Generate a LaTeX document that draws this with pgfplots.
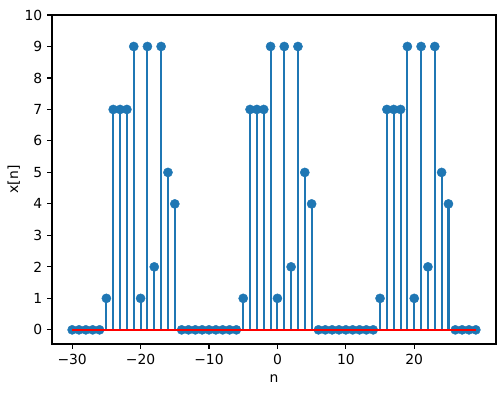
\documentclass[border=0pt]{standalone}
\usepackage{fontspec}
\setmainfont{DejaVu Sans}
\usepackage{pgfplots}
\pgfplotsset{compat=1.18}
\definecolor{C0}{HTML}{1F77B4}
\begin{document}
\begin{tikzpicture}
\path[use as bounding box] (-37.44pt,-34.56pt) rectangle (325.44pt,247.68pt);
\begin{axis}[
  at={(0,0)}, anchor=south west,
  scale only axis, width=319.68pt, height=236.88pt,
  xmin=-32.95, xmax=31.95, ymin=-0.45, ymax=10,
  xtick={-30,-20,-10,0,10,20}, xticklabels={−30,−20,−10,0,10,20},
  ytick={0,1,...,10},
  tick align=outside, tick pos=left,
  major tick length=3.5pt,
  every tick/.style={black, line width=0.8pt},
  axis line style={line width=0.8pt},
  /pgf/number format/assume math mode=true,
  ticklabel style={font=\fontsize{10}{12}\selectfont},
  label style={font=\fontsize{10}{12}\selectfont},
  xlabel={n}, ylabel={x[n]},
  xlabel style={yshift=-1pt},
  ylabel style={yshift=-3.5pt},
  clip mode=individual,
]
\addplot[ycomb, C0, line width=1.5pt, mark=*, mark size=3.3pt, mark options={solid, fill=C0, draw=C0, line width=0.3pt}] coordinates {
(-30,0)(-29,0)(-28,0)(-27,0)(-26,0)(-25,1)(-24,7)(-23,7)(-22,7)(-21,9)
(-20,1)(-19,9)(-18,2)(-17,9)(-16,5)(-15,4)(-14,0)(-13,0)(-12,0)(-11,0)
(-10,0)(-9,0)(-8,0)(-7,0)(-6,0)(-5,1)(-4,7)(-3,7)(-2,7)(-1,9)
(0,1)(1,9)(2,2)(3,9)(4,5)(5,4)(6,0)(7,0)(8,0)(9,0)
(10,0)(11,0)(12,0)(13,0)(14,0)(15,1)(16,7)(17,7)(18,7)(19,9)
(20,1)(21,9)(22,2)(23,9)(24,5)(25,4)(26,0)(27,0)(28,0)(29,0)
};
\addplot[red, line width=1.5pt, no marks] coordinates {(-30,0)(29,0)};
\end{axis}
\end{tikzpicture}
\end{document}
